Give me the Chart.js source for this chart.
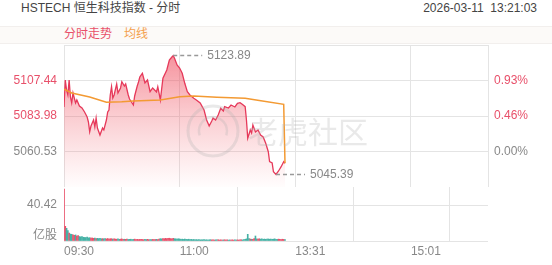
<!DOCTYPE html>
<html><head><meta charset="utf-8">
<script src="https://cdn.jsdelivr.net/npm/chart.js@4/dist/chart.umd.min.js"></script>
<style>
html,body{margin:0;padding:0;background:#fff;}
#wrap{position:relative;width:552px;height:265px;overflow:hidden;font-family:"Liberation Sans",Arial,"Noto Sans CJK SC",sans-serif;}
.t{position:absolute;white-space:nowrap;font-size:12px;line-height:14px;}
#title{left:21px;top:1px;color:#444;}
#time{right:15px;top:1px;color:#444;}
#band{position:absolute;left:0;top:26px;width:552px;height:16px;background:#fcfaf8;border-top:1px solid #f2efed;border-bottom:1px solid #f2efed;}
#lg1{left:64px;top:27px;color:#e8506a;}
#lg2{left:124px;top:27px;color:#f4a04c;}
#unit{right:495px;top:228px;color:#888;}
canvas{position:absolute;left:0;top:0;}
</style></head>
<body><div id="wrap">
<div class="t" id="title">HSTECH 恒生科技指数 - 分时</div>
<div class="t" id="time">2026-03-11&nbsp;&nbsp;13:21:03</div>
<div id="band"></div>
<div class="t" id="lg1">分时走势</div>
<div class="t" id="lg2">均线</div>
<canvas id="c1" width="552" height="265"></canvas>
<canvas id="c2" width="552" height="265"></canvas>
<div class="t" id="unit">亿股</div>
</div>
<script>
// ---- data ----
const prevClose = 5060.53;
const priceTicks = [5060.53, 5083.98, 5107.44];
const priceMin = 5037.07, priceMax = 5130.89;
const volTicks = [40.42];
const volMax = 60.63;
const xTickMinutes = [0, 90, 180, 270, 330];
const xTickLabels = ['09:30', '11:00', '13:31', '15:01', ''];

const priceMinutes = [0,1,2,3,4,5,6,7,9,10,
 12,14,16,18,19,20,21,23,24,25,
 26,28,30,31,33,34,35,36,37,38,
 39,41,42,44,45,47,48,50,51,54,
 55,57,58,59,61,63,65,67,69,72,
 73,75,77,80,82,84,85,86,88,90,
 92,94,96,98,101,103,106,109,111,113,
 115,116,118,120,122,124,125,128,130,133,
 135,137,139,141,142,143,145,146,147,149,
 151,153,155,157,159,160,162,163,165,167,
 169,171,172];
const priceValues = [5089.93,5107.77,5101.16,5097.86,5107.77,5096.54,5092.58,5099.18,5092.58,5094.56,
 5090.59,5089.27,5086.63,5083.32,5080.02,5073.61,5077.38,5081.34,5076.72,5082.66,
 5076.06,5071.43,5076.06,5074.74,5081.34,5086.63,5087.95,5097.86,5103.34,5095.88,
 5097.86,5105.13,5099.18,5102.49,5106.65,5103.81,5105.13,5097.86,5095.22,5091.25,
 5097.20,5103.81,5106.45,5109.75,5112.20,5105.79,5107.77,5100.04,5102.49,5099.84,
 5103.34,5094.56,5108.89,5114.38,5120.98,5122.97,5123.89,5122.11,5117.68,5115.70,
 5112.20,5105.59,5100.04,5097.86,5095.68,5094.56,5092.58,5087.95,5081.34,5077.38,
 5080.68,5082.66,5081.34,5084.65,5089.07,5087.29,5090.13,5089.27,5091.25,5089.93,
 5092.38,5092.77,5091.58,5090.13,5081.34,5069.25,5074.74,5072.75,5078.04,5073.41,
 5074.74,5071.43,5070.11,5065.95,5060.40,5053.79,5052.93,5047.18,5045.39,5047.65,
 5050.49,5053.79,5052.74];

const avgMinutes = [0,6,20,33,45,54,75,90,101,119,141,152,171,172];
const avgValues = [5101.63,5099.18,5096.54,5093.04,5093.43,5093.90,5094.56,5096.74,5097.20,5096.34,5095.68,5094.23,5091.72,5052.74];

const volumes = [58.2,16.5,14.2,11.6,9.0,7.8,7.5,7.0,6.4,6.8,
 5.6,6.0,5.0,4.6,5.1,4.2,4.0,3.8,4.3,3.5,
 3.7,3.2,3.4,3.0,3.2,2.8,3.0,2.7,2.9,2.5,
 2.7,2.4,2.6,2.3,2.8,2.2,2.5,2.6,2.1,2.3,
 2.2,2.0,2.4,1.9,2.1,2.3,1.8,2.0,1.9,2.2,
 1.7,1.9,2.0,1.6,1.8,2.1,1.7,1.9,1.6,1.8,
 2.0,1.7,1.5,1.8,1.6,1.9,1.5,1.7,1.6,1.8,
 1.5,1.7,1.9,1.6,2.2,2.6,2.4,2.8,2.5,3.0,
 2.6,2.9,3.1,2.7,2.5,3.0,2.6,2.4,2.2,2.5,
 2.3,2.0,2.1,1.8,2.2,1.9,1.7,2.0,1.6,1.8,
 1.5,1.7,1.4,1.6,1.3,1.5,1.2,1.4,1.3,1.5,
 1.2,1.4,1.1,1.3,1.5,1.2,1.4,1.1,1.3,1.2,
 1.4,1.1,1.3,1.0,1.2,1.4,1.1,1.3,1.0,1.2,
 1.1,1.3,1.0,1.2,1.1,1.3,1.0,1.2,1.4,1.2,
 1.5,1.8,2.4,7.5,2.8,2.2,2.0,1.8,2.6,5.6,
 2.4,2.2,2.5,2.1,2.3,2.0,2.2,1.9,2.1,2.3,
 2.0,2.2,1.9,2.1,2.4,2.0,1.8,2.1,1.9,1.7,
 2.0,1.8,1.6];

// ---- styles ----
const RED = '#e8506a', LINE = '#e6395a', ORANGE = '#f39a33', TEAL = '#45b1a5', GRAY = '#888', GRID = '#e4e4e4';
const FONT = {family: '"Liberation Sans", Arial, "Noto Sans CJK SC", sans-serif', size: 12};

const pricePts = priceMinutes.map((m, i) => ({x: m, y: priceValues[i]}));
const avgPts = avgMinutes.map((m, i) => ({x: m, y: avgValues[i]}));
const volPts = volumes.map((v, i) => ({x: i, y: v}));
const volColors = volumes.map((v, m) => {
  let i = 0;
  while (i + 1 < priceMinutes.length && priceMinutes[i + 1] <= m) i++;
  if (i === 0) return RED;
  return priceValues[i] >= priceValues[i - 1] ? RED : TEAL;
});

const xGrid = {drawTicks: false, color: GRID, lineWidth: 1};

const decor = {
  id: 'decor',
  afterDatasetsDraw(chart) {
    const ctx = chart.ctx, xs = chart.scales.x, ys = chart.scales.y;
    // watermark
    ctx.save();
    ctx.strokeStyle = 'rgba(175,175,175,0.28)';
    ctx.lineWidth = 3;
    ctx.beginPath(); ctx.arc(213, 131, 25, 0, Math.PI * 2); ctx.stroke();
    ctx.lineWidth = 2.5;
    ctx.beginPath(); ctx.arc(213, 131, 14, Math.PI * 0.9, Math.PI * 2.1); ctx.stroke();
    ctx.fillStyle = 'rgba(175,175,175,0.28)';
    ctx.font = '30px "Noto Sans CJK SC"';
    ctx.textBaseline = 'middle';
    ctx.fillText('老虎社区', 248, 132);
    ctx.restore();
    // high / low markers
    let hi = 0, lo = 0;
    priceValues.forEach((v, i) => { if (v > priceValues[hi]) hi = i; if (v < priceValues[lo]) lo = i; });
    ctx.save();
    ctx.font = '12px "Liberation Sans", Arial';
    ctx.textBaseline = 'middle';
    ctx.fillStyle = GRAY;
    ctx.strokeStyle = '#999';
    ctx.lineWidth = 1.5;
    ctx.setLineDash([4, 3]);
    [hi, lo].forEach(i => {
      const px = xs.getPixelForValue(priceMinutes[i]), py = ys.getPixelForValue(priceValues[i]);
      ctx.beginPath(); ctx.moveTo(px, py); ctx.lineTo(px + 29, py); ctx.stroke();
      ctx.fillText(priceValues[i].toFixed(2), px + 34, py);
    });
    ctx.restore();
  }
};

new Chart(document.getElementById('c1'), {
  type: 'line',
  data: {datasets: [
    {label: '均线', data: avgPts, borderColor: ORANGE, borderWidth: 1.5, pointRadius: 0, fill: false, order: 0, tension: 0},
    {label: '分时走势', data: pricePts, borderColor: LINE, borderWidth: 1.3, pointRadius: 0, order: 1, tension: 0,
      fill: 'start',
      backgroundColor: (c) => {
        const a = c.chart.chartArea;
        if (!a) return 'rgba(240,80,95,0.3)';
        const g = c.chart.ctx.createLinearGradient(0, a.top, 0, a.bottom);
        g.addColorStop(0, 'rgba(238,62,82,0.62)');
        g.addColorStop(0.45, 'rgba(240,80,95,0.32)');
        g.addColorStop(1, 'rgba(245,110,120,0.02)');
        return g;
      }}
  ]},
  options: {
    animation: false, responsive: false, devicePixelRatio: 1,
    layout: {padding: {top: 45, bottom: 78, left: 0, right: 0}},
    plugins: {legend: {display: false}, tooltip: {enabled: false}},
    scales: {
      x: {type: 'linear', min: 0, max: 330,
        afterBuildTicks: s => { s.ticks = xTickMinutes.map(v => ({value: v})); },
        afterFit: s => { s.height = 0; },
        ticks: {display: false}, grid: xGrid, border: {display: false}},
      y: {position: 'left', min: priceMin, max: priceMax,
        afterBuildTicks: s => { s.ticks = [priceMin, ...priceTicks, priceMax].map(v => ({value: v})); },
        afterFit: s => { s.width = 64; },
        ticks: {padding: 7, font: FONT, autoSkip: false,
          color: c => c.tick.value > prevClose + 0.001 ? RED : GRAY,
          callback: v => priceTicks.includes(v) ? v.toFixed(2) : ''},
        grid: {drawTicks: false, color: c => c.tick.value === priceMin ? 'rgba(0,0,0,0)' : GRID},
        border: {display: false}},
      y2: {position: 'right', min: priceMin, max: priceMax,
        afterBuildTicks: s => { s.ticks = [priceMin, ...priceTicks, priceMax].map(v => ({value: v})); },
        afterFit: s => { s.width = 64; },
        ticks: {padding: 6, font: FONT, autoSkip: false,
          color: c => c.tick.value > prevClose + 0.001 ? RED : GRAY,
          callback: v => priceTicks.includes(v) ? ((v - prevClose) / prevClose * 100).toFixed(2) + '%' : ''},
        grid: {display: false, drawTicks: false}, border: {display: false}}
    }
  },
  plugins: [decor]
});

new Chart(document.getElementById('c2'), {
  type: 'bar',
  data: {datasets: [{label: '成交量', data: volPts, backgroundColor: volColors, barThickness: 1, borderWidth: 0}]},
  options: {
    animation: false, responsive: false, devicePixelRatio: 1,
    layout: {padding: {top: 187, bottom: 0, left: 0, right: 64}},
    plugins: {legend: {display: false}, tooltip: {enabled: false}},
    scales: {
      x: {type: 'linear', min: 0, max: 330, offset: false,
        afterBuildTicks: s => { s.ticks = xTickMinutes.map(v => ({value: v})); },
        afterFit: s => { s.height = 24; },
        ticks: {align: 'start', padding: 3, font: FONT, color: GRAY, autoSkip: false, maxRotation: 0,
          callback: (v, i) => xTickLabels[i]},
        grid: xGrid, border: {display: false}},
      y: {position: 'left', min: 0, max: volMax,
        afterBuildTicks: s => { s.ticks = [0, ...volTicks, volMax].map(v => ({value: v})); },
        afterFit: s => { s.width = 64; },
        ticks: {padding: 7, font: FONT, color: GRAY, autoSkip: false,
          callback: v => volTicks.includes(v) ? v.toFixed(2) : ''},
        grid: {drawTicks: false, color: c => c.tick.value === volMax ? 'rgba(0,0,0,0)' : GRID},
        border: {display: false}}
    }
  }
});
</script>
</body></html>
